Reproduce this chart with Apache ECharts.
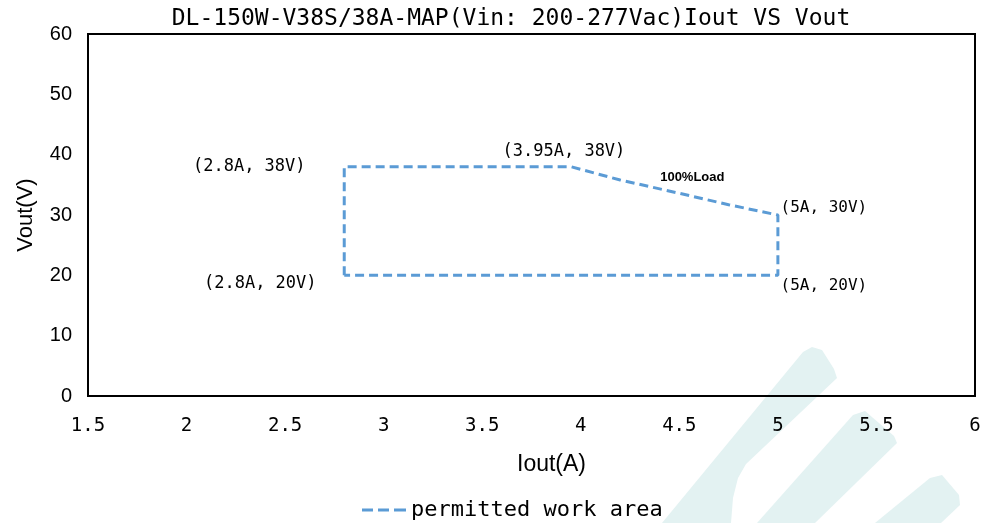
<!DOCTYPE html>
<html>
<head>
<meta charset="utf-8">
<script src="https://cdn.jsdelivr.net/npm/echarts@6/dist/echarts.min.js"></script>
<style>
html,body{margin:0;padding:0;background:#fff;}
#chart{width:982px;height:523px;}
</style>
</head>
<body>
<div id="chart"></div>
<script>
// ---- data ----
const titleText = 'DL-150W-V38S/38A-MAP(Vin: 200-277Vac)Iout VS Vout';
const seriesName = 'permitted work area';
const xAxisName = 'Iout(A)';
const yAxisName = 'Vout(V)';
const xTicks = [1.5, 2, 2.5, 3, 3.5, 4, 4.5, 5, 5.5, 6];
const yTicks = [0, 10, 20, 30, 40, 50, 60];
const iout = [2.8, 2.8, 3.95, 4.2, 4.5, 4.75, 5, 5, 2.8];
const vout = [20, 38, 38, 35.8, 33.6, 31.7, 30, 20, 20];
const pointLabels = ['', '(2.8A, 38V)', '(3.95A, 38V)', '', '100%Load', '', '(5A, 30V)', '(5A, 20V)', '(2.8A, 20V)'];

// ---- styles (not data) ----
const labelOffsets = {1: [-95, 0], 2: [-7, -15], 4: [13, -16], 6: [46, -7], 7: [46, 11], 8: [-84, 8]};
const monoFont = '"DejaVu Sans Mono", "Liberation Mono", monospace';
const lineColor = '#5B9BD5';

const lineData = iout.map((x, i) => [x, vout[i]]);
const annData = [];
pointLabels.forEach((t, i) => {
  if (!t) return;
  const isLoad = t === '100%Load';
  annData.push({
    value: [iout[i], vout[i]],
    name: t,
    label: {
      offset: labelOffsets[i],
      fontFamily: isLoad ? '"Liberation Sans", Arial, sans-serif' : monoFont,
      fontWeight: isLoad ? 'bold' : 'normal',
      fontSize: isLoad ? 13 : (t.startsWith('(5A') ? 16 : 17),
      color: '#000'
    }
  });
});

const chart = echarts.init(document.getElementById('chart'), null, {renderer: 'canvas'});
const wmColor = '#e3f2f2';
chart.setOption({
  animation: false,
  backgroundColor: '#fff',
  title: {
    text: titleText,
    left: 506, textAlign: 'center',
    top: 3,
    textStyle: {fontFamily: monoFont, fontSize: 23, fontWeight: 'normal', color: '#000'}
  },
  graphic: [
    {type: 'polygon', z: -10, silent: true, shape: {points: [[803,352],[812,347],[822,350],[834,369],[837,378],[746,464],[738,478],[733,498],[731,523],[662,523]]}, style: {fill: wmColor}},
    {type: 'polygon', z: -10, silent: true, shape: {points: [[853,415],[865,411],[894,436],[897,443],[815,523],[757,523]]}, style: {fill: wmColor}},
    {type: 'polygon', z: -10, silent: true, shape: {points: [[930,478],[942,475],[959,495],[960,505],[941,523],[875,523]]}, style: {fill: wmColor}}
  ],
  grid: {
    left: 88, right: 7, top: 34, bottom: 127,
    show: true, borderColor: '#000', borderWidth: 2, backgroundColor: 'transparent',
    containLabel: false, outerBoundsMode: 'none'
  },
  legend: {
    data: [{name: seriesName, icon: 'path://M0,0h11v3h-11z M16,0h11v3h-11z M32,0h12v3h-12z'}],
    left: 357, top: 494,
    itemWidth: 44, itemHeight: 3.5, itemGap: 8,
    itemStyle: {color: lineColor},
    textStyle: {fontFamily: monoFont, fontSize: 22, color: '#000'}
  },
  xAxis: {
    type: 'value', min: xTicks[0], max: xTicks[xTicks.length - 1], interval: 0.5,
    name: xAxisName, nameLocation: 'middle', nameGap: 57,
    nameTextStyle: {fontFamily: '"Liberation Sans", Arial, sans-serif', fontSize: 23, color: '#000', padding: [0, 0, 0, 40]},
    axisLine: {show: false}, axisTick: {show: false}, splitLine: {show: false},
    axisLabel: {margin: 21, fontFamily: monoFont, fontSize: 19, color: '#000', formatter: v => String(v), showMaxLabel: true, showMinLabel: true}
  },
  yAxis: {
    type: 'value', min: yTicks[0], max: yTicks[yTicks.length - 1], interval: 10,
    name: yAxisName, nameLocation: 'middle', nameGap: 51,
    nameTextStyle: {fontFamily: '"Liberation Sans", Arial, sans-serif', fontSize: 22, color: '#000'},
    axisLine: {show: false}, axisTick: {show: false}, splitLine: {show: false},
    axisLabel: {margin: 16, fontFamily: '"Liberation Sans", Arial, sans-serif', fontSize: 20, color: '#000'}
  },
  series: [
    {
      name: seriesName, type: 'line', data: lineData, symbol: 'none',
      lineStyle: {color: lineColor, width: 3, type: [9, 5]},
      itemStyle: {color: lineColor},
      z: 3
    },
    {
      name: 'annotations', type: 'scatter', data: annData, symbolSize: 0, silent: true,
      itemStyle: {opacity: 1},
      label: {show: true, opacity: 1, position: 'inside', align: 'center', verticalAlign: 'middle', color: '#000', formatter: p => p.name},
      z: 4
    }
  ]
});
</script>
</body>
</html>
